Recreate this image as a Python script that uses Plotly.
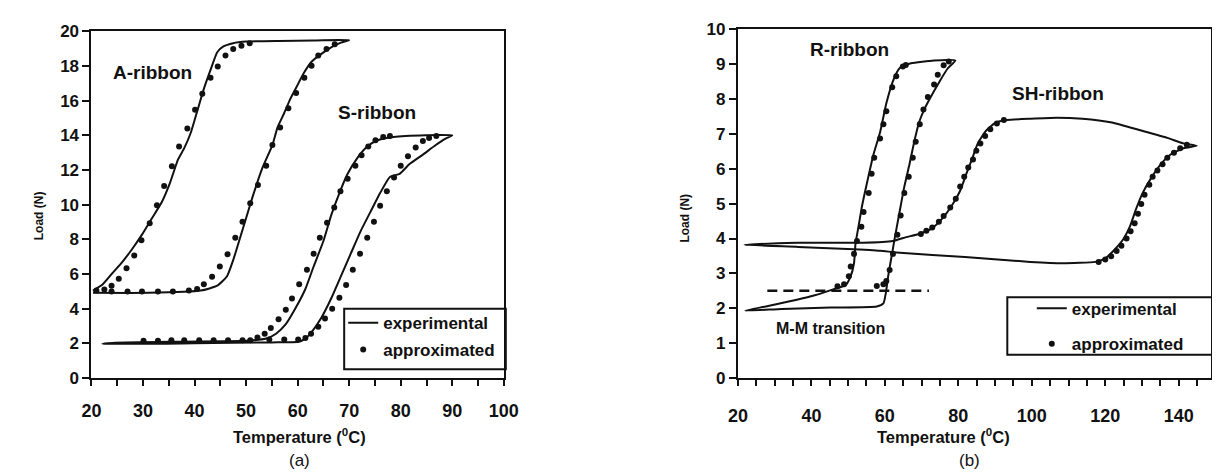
import plotly.graph_objects as go

# ---------------- Panel (a) data ----------------
a_exp_T = [20.3, 22.2, 24.1, 26.0, 27.9, 29.8, 31.7, 33.6, 35.2, 36.8, 38.0, 39.3, 40.6, 41.8, 43.1, 44.4,
           45.6, 47.5, 50.1, 56.4, 63.0, 70.0, 68.4, 66.5, 64.6, 62.7, 61.2, 59.9, 58.6, 57.4, 56.1, 55.1,
           53.2, 51.3, 49.4, 47.5, 46.3, 44.4, 41.2, 31.1, 20.3]
a_exp_L = [5.04, 5.41, 6.06, 6.70, 7.44, 8.27, 9.20, 10.12, 11.23, 12.61, 13.26, 14.18, 15.48, 16.68, 17.78, 18.80,
           19.13, 19.32, 19.41, 19.45, 19.47, 19.50, 19.35, 19.08, 18.70, 18.25, 17.60, 16.86, 16.12, 15.29, 14.46, 13.44,
           12.15, 10.49, 8.64, 6.80, 5.87, 5.32, 5.04, 4.91, 4.91]
a_apx_T = [20.95, 22.5, 23.9, 25.3, 26.8, 28.3, 29.7, 31.3, 32.7, 34.1, 35.6, 37.0, 38.6, 40.1, 41.5, 43.1, 44.5,
           46.0, 47.5, 49.1, 50.7,
           67.2, 65.6, 64.0, 62.7, 61.3, 59.7, 58.2, 56.6, 55.1, 53.9, 52.3, 50.8, 49.3, 47.9, 46.4, 44.9, 43.4,
           41.8, 40.5, 38.9, 35.8, 32.9, 29.8, 27.0, 23.9]
a_apx_L = [5.04, 5.10, 5.32, 5.72, 6.33, 7.07, 7.94, 8.92, 9.97, 11.08, 12.21, 13.35, 14.40, 15.48, 16.40, 17.32, 17.97,
           18.61, 18.98, 19.17, 19.32,
           19.26, 18.98, 18.61, 18.02, 17.32, 16.45, 15.57, 14.46, 13.44, 12.24, 11.14, 10.08, 9.01, 8.09, 7.13, 6.43, 5.84,
           5.41, 5.13, 5.04, 4.99, 4.99, 4.99, 4.99, 4.99]

s_exp_T = [22.1, 40.0, 55.0, 60.2, 61.5, 62.7, 64.6, 66.5, 68.4, 70.3, 72.2, 74.1, 76.0, 77.9, 79.8, 81.7, 84.3,
           86.8, 88.7, 90.0, 84.9, 78.6, 75.4, 73.5, 71.6, 69.7, 68.1, 66.5, 65.0, 63.1, 61.5, 59.6, 57.7, 55.8,
           53.9, 50.1, 37.4, 24.7, 22.1]
s_exp_L = [1.96, 2.00, 2.05, 2.09, 2.27, 2.64, 3.47, 4.58, 5.87, 7.17, 8.46, 9.57, 10.67, 11.60, 11.78, 12.34, 12.89,
           13.44, 13.81, 14.00, 14.00, 13.90, 13.70, 13.35, 12.70, 11.78, 10.67, 9.38, 7.90, 6.43, 5.13, 4.03, 3.10, 2.55,
           2.27, 2.14, 2.09, 2.03, 1.96]
s_apx_T = [77.9, 76.6, 75.1, 73.7, 72.4, 71.2, 69.7, 68.3, 67.1, 65.7, 64.3, 63.1, 61.8, 60.3, 58.9, 57.7, 56.3,
           54.8, 53.6, 52.2, 50.8, 49.3, 46.5, 43.7, 40.9, 38.0, 35.5, 32.9, 30.1,
           54.5, 57.4, 60.1, 61.5, 62.6, 64.0, 65.3, 66.7, 68.1, 69.4, 70.7, 72.1, 73.5, 74.8, 76.0, 77.3, 78.7,
           80.0, 81.4, 82.9, 84.3, 85.5, 86.9]
s_apx_L = [13.96, 13.90, 13.72, 13.35, 12.85, 12.24, 11.50, 10.77, 9.84, 8.96, 8.09, 7.17, 6.24, 5.41, 4.58, 3.93, 3.38,
           2.88, 2.55, 2.33, 2.18, 2.18, 2.18, 2.18, 2.18, 2.18, 2.18, 2.14, 2.14,
           2.22, 2.22, 2.22, 2.31, 2.55, 2.95, 3.43, 3.99, 4.62, 5.36, 6.24, 7.17, 8.09, 9.01, 9.94, 10.77, 11.56,
           12.24, 12.80, 13.30, 13.67, 13.85, 13.96]

# ---------------- Panel (b) data ----------------
r_exp_T = [22.0, 32.0, 45.3, 57.8, 59.6, 60.3, 60.9, 61.8, 62.7, 64.0, 65.3, 66.7, 68.0, 69.3, 70.7, 72.0, 74.9,
           77.1, 79.2, 73.4, 67.1, 64.0, 62.2, 60.4, 58.7, 56.9, 55.1, 53.8, 52.9, 52.0, 51.6, 50.7, 49.3, 46.2,
           40.9, 33.8, 27.6, 22.0]
r_exp_L = [1.93, 1.98, 2.02, 2.05, 2.14, 2.46, 2.92, 3.47, 4.02, 4.76, 5.49, 6.13, 6.78, 7.33, 7.70, 7.97, 8.51,
           8.88, 9.11, 9.11, 9.03, 8.89, 8.52, 7.88, 7.05, 6.41, 5.58, 4.94, 4.39, 3.84, 3.29, 2.92, 2.66, 2.55,
           2.37, 2.19, 2.05, 1.93]
r_apx_T = [65.7, 64.9, 63.1, 62.0, 60.4, 59.6, 58.7, 57.1, 56.4, 55.6, 54.2, 53.6, 52.4, 51.6, 50.7, 50.2, 48.9, 47.1,
           57.8, 59.6, 60.4, 61.3, 62.2, 63.4, 64.3, 65.3, 66.5, 67.6, 68.4, 69.5, 70.5, 71.7, 73.4, 74.4, 76.0, 77.4]
r_apx_L = [8.98, 8.94, 8.66, 8.34, 7.65, 7.28, 6.87, 6.32, 5.86, 5.31, 4.76, 4.34, 3.93, 3.56, 3.20, 2.92, 2.69, 2.63,
           2.64, 2.69, 2.78, 3.10, 3.56, 4.11, 4.66, 5.31, 5.77, 6.32, 6.78, 7.28, 7.70, 8.06, 8.42, 8.70, 8.97, 9.08]

sh_exp_T = [21.8, 36.4, 54.2, 62.2, 65.8, 69.3, 72.9, 75.6, 78.2, 80.4, 82.2, 84.0, 85.3, 87.6, 90.2, 93.3, 99.6,
            106.7, 113.8, 121.8, 129.8, 136.9, 141.3, 144.9, 141.3, 137.8, 135.1, 132.4, 130.2, 128.4, 126.7, 124.9,
            122.7, 120.0, 117.3, 108.4, 99.6, 90.7, 81.8, 72.9, 63.1, 58.7, 49.8, 36.4, 21.8]
sh_exp_L = [3.82, 3.88, 3.88, 3.93, 4.04, 4.13, 4.30, 4.57, 4.94, 5.35, 5.86, 6.36, 6.73, 7.10, 7.33, 7.40, 7.44,
            7.47, 7.44, 7.33, 7.10, 6.89, 6.73, 6.66, 6.59, 6.41, 6.13, 5.72, 5.31, 4.85, 4.34, 3.98,
            3.70, 3.43, 3.33, 3.29, 3.33, 3.40, 3.47, 3.53, 3.60, 3.65, 3.70, 3.76, 3.82]
sh_apx_T = [69.8, 71.3, 72.9, 74.7, 76.0, 77.8, 79.3, 80.5, 81.6, 82.7, 84.0, 84.9, 86.0, 87.3, 88.7, 90.5, 92.4,
            142.2, 140.4, 138.7, 136.9, 135.6, 134.2, 132.9, 132.0, 130.7, 129.8, 128.9, 128.0, 126.9, 125.8, 124.4,
            123.1, 121.6, 120.0, 118.2]
sh_apx_L = [4.13, 4.22, 4.32, 4.48, 4.65, 4.89, 5.14, 5.49, 5.77, 6.04, 6.27, 6.52, 6.73, 6.94, 7.14, 7.30, 7.40,
            6.69, 6.59, 6.46, 6.32, 6.13, 5.95, 5.77, 5.54, 5.26, 4.99, 4.71, 4.44, 4.21, 4.00, 3.79,
            3.64, 3.49, 3.40, 3.33]

mm_T = [28.0, 72.0]
mm_L = [2.5, 2.5]

xticks_a = [20, 30, 40, 50, 60, 70, 80, 90, 100]
yticks_a = [0, 2, 4, 6, 8, 10, 12, 14, 16, 18, 20]
xticks_b = [20, 40, 60, 80, 100, 120, 140]
yticks_b = [0, 1, 2, 3, 4, 5, 6, 7, 8, 9, 10]

# ---------------- figure ----------------
W, H = 1220, 473
INK = "#111111"
FONT = "Liberation Sans, Arial, sans-serif"

def px(x):
    return x / W

def py(y):
    return 1 - y / H

fig = go.Figure()

def line_trace(T, L, xa, ya, legend=None, show=False):
    return go.Scatter(x=T, y=L, mode="lines", xaxis=xa, yaxis=ya,
                      line=dict(color=INK, width=2, shape="spline", smoothing=0.5),
                      name="experimental", showlegend=show, legend=legend, hoverinfo="skip")

def dot_trace(T, L, xa, ya, legend=None, show=False):
    return go.Scatter(x=T, y=L, mode="markers", xaxis=xa, yaxis=ya,
                      marker=dict(color=INK, size=6),
                      name="approximated", showlegend=show, legend=legend, hoverinfo="skip")

fig.add_trace(line_trace(a_exp_T, a_exp_L, "x", "y", "legend", True))
fig.add_trace(line_trace(s_exp_T, s_exp_L, "x", "y"))
fig.add_trace(dot_trace(a_apx_T, a_apx_L, "x", "y", "legend2", True))
fig.add_trace(dot_trace(s_apx_T, s_apx_L, "x", "y"))

fig.add_trace(line_trace(r_exp_T, r_exp_L, "x2", "y2", "legend3", True))
fig.add_trace(line_trace(sh_exp_T, sh_exp_L, "x2", "y2"))
fig.add_trace(dot_trace(r_apx_T, r_apx_L, "x2", "y2", "legend4", True))
fig.add_trace(dot_trace(sh_apx_T, sh_apx_L, "x2", "y2"))
fig.add_trace(go.Scatter(x=mm_T, y=mm_L, mode="lines", xaxis="x2", yaxis="y2",
                         line=dict(color=INK, width=2.5, dash="10px,6px"),
                         showlegend=False, hoverinfo="skip"))

xtickfont = dict(family=FONT, size=18, color=INK, weight="bold")
ytickfont = dict(family=FONT, size=17, color=INK, weight="bold")
common_x = dict(showline=True, linecolor=INK, linewidth=2, mirror=True, ticks="outside",
                ticklen=6, tickwidth=2, tickcolor=INK, showgrid=False, zeroline=False,
                tickfont=xtickfont, fixedrange=True,
                minor=dict(dtick=5, ticks="outside", ticklen=6, tickwidth=2, tickcolor=INK, showgrid=False))
common_y = dict(showline=True, linecolor=INK, linewidth=2, mirror=True, ticks="outside",
                ticklen=7, tickwidth=2, tickcolor=INK, showgrid=False, zeroline=False,
                tickfont=ytickfont, fixedrange=True)

legfont = dict(family=FONT, size=17, color=INK, weight="bold")

def leg(text_x, text_y):
    return dict(x=px(text_x - 40), y=py(text_y), xanchor="left", yanchor="middle",
                xref="paper", yref="paper", bgcolor="rgba(0,0,0,0)", borderwidth=0,
                font=legfont, itemwidth=30)

fig.update_layout(
    width=W, height=H, autosize=False,
    margin=dict(l=0, r=0, t=0, b=0),
    paper_bgcolor="white", plot_bgcolor="white",
    xaxis=dict(domain=[px(75), px(496)], range=[20, 100], tickvals=xticks_a,
               anchor="y", ticklabelstandoff=10, **common_x),
    yaxis=dict(domain=[py(376), py(15)], range=[0, 20], tickvals=yticks_a,
               anchor="x", **common_y),
    xaxis2=dict(domain=[px(735), px(1218)], range=[20, 148.8], tickvals=xticks_b,
                anchor="y2", ticklabelstandoff=15, **common_x),
    yaxis2=dict(domain=[py(376), py(13)], range=[0, 10], tickvals=yticks_b,
                anchor="x2", **common_y),
    legend=leg(372, 319),
    legend2=leg(372, 347),
    legend3=leg(1075, 304),
    legend4=leg(1075, 341),
    shapes=[
        dict(type="rect", xref="paper", yref="paper", x0=px(333), x1=px(498), y0=py(367), y1=py(304),
             line=dict(color=INK, width=2)),
        dict(type="rect", xref="paper", yref="paper", x0=px(1010), x1=px(1235), y0=py(352), y1=py(292),
             line=dict(color=INK, width=2)),
    ],
)

def ann(text, x, y, size, bold=True, angle=0):
    return dict(text=text, x=px(x), y=py(y), xref="paper", yref="paper", showarrow=False,
                xanchor="center", yanchor="middle", textangle=angle,
                font=dict(family=FONT, size=size, color=INK, weight="bold" if bold else "normal"))

fig.update_layout(annotations=[
    ann("A-ribbon", 137, 58, 19),
    ann("S-ribbon", 367, 99, 19),
    ann("R-ribbon", 849, 34, 19),
    ann("SH-ribbon", 1062, 80, 19),
    ann("M-M transition", 829, 325, 16),
    ann("Load (N)", 21, 207, 12, angle=-90),
    ann("Load (N)", 681, 210, 12, angle=-90),
    ann("Temperature (<sup>0</sup>C)", 287, 437, 16.5),
    ann("Temperature (<sup>0</sup>C)", 945, 437, 16.5),
    ann("(a)", 287, 462, 17, bold=False),
    ann("(b)", 971, 462, 17, bold=False),
])

fig.write_html("out.html")
